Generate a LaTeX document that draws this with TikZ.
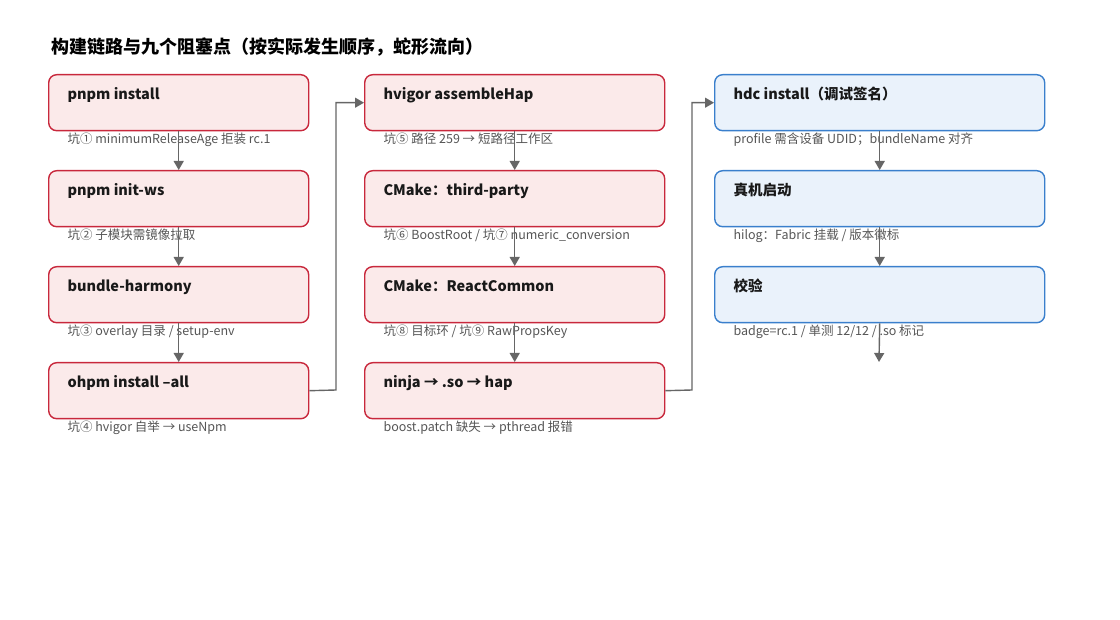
\documentclass[tikz,border=0pt]{standalone}
\usepackage{fontspec}
\setmainfont{Noto Sans CJK SC}
\usetikzlibrary{arrows.meta}
\definecolor{rfill}{HTML}{FBEAEA}\definecolor{rdraw}{HTML}{C8283C}
\definecolor{bfill}{HTML}{EAF2FB}\definecolor{bdraw}{HTML}{3A7FCC}
\definecolor{ln}{HTML}{666666}\definecolor{sub}{HTML}{555555}
\begin{document}
\begin{tikzpicture}[x=1pt,y=-1pt,
 box/.style={rounded corners=8pt,line width=1.4pt,anchor=north west,inner sep=0pt},
 red/.style={box,fill=rfill,draw=rdraw},
 blue/.style={box,fill=bfill,draw=bdraw},
 conn/.style={draw=ln,line width=1.4pt,-{Triangle[length=9pt,width=10pt]}},
 ttl/.style={anchor=base west,font=\bfseries\fontsize{14.5}{16}\selectfont,text=black!90},
 sb/.style={anchor=base west,font=\fontsize{12.5}{14}\selectfont,text=sub}]
\useasboundingbox (0,0) rectangle (1120,620);
\node[anchor=base west,font=\bfseries\fontsize{18}{20}\selectfont] (title) at (48,54) {构建链路与九个阻塞点（按实际发生顺序，蛇形流向）};
\newcommand\bx[6]{%
 \node[#1,minimum width=#4pt,minimum height=56pt] (#2) at (#3) {};
 \node[ttl] (#2t) at ([xshift=16pt,yshift=-26pt]#2.north west) {#5};
 \node[sb] (#2s) at ([xshift=16pt,yshift=-12pt]#2.south west) {#6};}
\bx{red}{a1}{48,74}{260}{pnpm install}{坑① minimumReleaseAge 拒装 rc.1}
\bx{red}{a2}{48,170}{260}{pnpm init-ws}{坑② 子模块需镜像拉取}
\bx{red}{a3}{48,266}{260}{bundle-harmony}{坑③ overlay 目录 / setup-env}
\bx{red}{a4}{48,362}{260}{ohpm install --all}{坑④ hvigor 自举 → useNpm}
\bx{red}{b1}{364,74}{300}{hvigor assembleHap}{坑⑤ 路径 259 → 短路径工作区}
\bx{red}{b2}{364,170}{300}{CMake：third-party}{坑⑥ BoostRoot / 坑⑦ numeric\_conversion}
\bx{red}{b3}{364,266}{300}{CMake：ReactCommon}{坑⑧ 目标环 / 坑⑨ RawPropsKey}
\bx{red}{b4}{364,362}{300}{ninja → .so → hap}{boost.patch 缺失 → pthread 报错}
\bx{blue}{c1}{714,74}{330}{hdc install（调试签名）}{profile 需含设备 UDID；bundleName 对齐}
\bx{blue}{c2}{714,170}{330}{真机启动}{hilog：Fabric 挂载 / 版本徽标}
\bx{blue}{c3}{714,266}{330}{校验}{badge=rc.1 / 单测 12/12 / .so 标记}
\coordinate (end) at (879,362);
\draw[conn] (a1.south) -- (a2.north);
\draw[conn] (a2.south) -- (a3.north);
\draw[conn] (a3.south) -- (a4.north);
\draw[conn] (b1.south) -- (b2.north);
\draw[conn] (b2.south) -- (b3.north);
\draw[conn] (b3.south) -- (b4.north);
\draw[conn] (c1.south) -- (c2.north);
\draw[conn] (c2.south) -- (c3.north);
\draw[conn] (c3.south) -- (end);
\draw[conn] (a4.east) -- (336,390) |- (b1.west);
\draw[conn] (b4.east) -- (692,390) |- (c1.west);
\end{tikzpicture}
\end{document}
